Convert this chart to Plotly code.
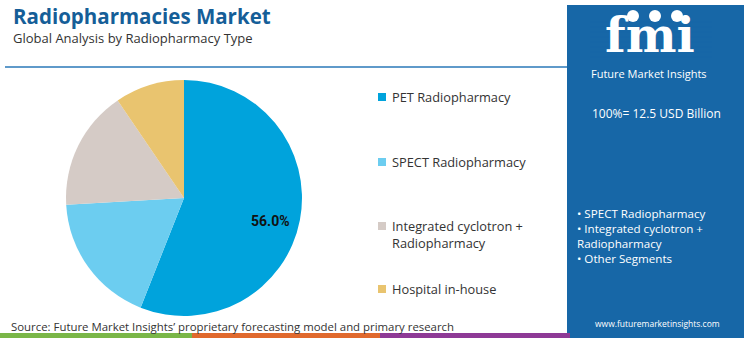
import math
import plotly.graph_objects as go

# ---- data ----
categories = ["PET Radiopharmacy", "SPECT Radiopharmacy",
              "Integrated cyclotron +<br>Radiopharmacy", "Hospital in-house"]
shares = [56.0, 18.1, 16.4, 9.5]
colors = ["#00a3dc", "#6ccdf0", "#d5cbc6", "#e9c46f"]
title = "Radiopharmacies Market"
subtitle = "Global Analysis by Radiopharmacy Type"
total_text = "100%= 12.5 USD Billion"
other_segments = ["SPECT Radiopharmacy", "Integrated cyclotron +<br>Radiopharmacy", "Other Segments"]
source = "Source: Future Market Insights\u2019 proprietary forecasting model and primary research"

W, H = 750, 338
FONT = "Open Sans"
PANEL = "#1767a7"

def px(x):
    return x / W

def py(y):
    return 1 - y / H

# pie domain (pixels)
PX0, PX1, PY0, PY1 = 66, 302, 80, 316

fig = go.Figure()
fig.add_trace(go.Pie(
    labels=categories, values=shares, sort=False, direction="clockwise", rotation=0,
    marker=dict(colors=colors, line=dict(width=0)),
    textinfo="none",
    domain=dict(x=[px(PX0), px(PX1)], y=[py(PY1), py(PY0)]),
    showlegend=False, hoverinfo="label+percent",
))

# label on the largest slice, placed from the slice's own angle
total = sum(shares)
cx, cy, R = (PX0 + PX1) / 2, (PY0 + PY1) / 2, (PX1 - PX0) / 2
theta = math.radians(0.5 * shares[0] / total * 360 + 4)
lx, ly = cx + 0.76 * R * math.sin(theta), cy - 0.76 * R * math.cos(theta)

shapes = []
ann = []
ann.append(dict(x=px(lx), y=py(ly), xref="paper", yref="paper",
                text="<b>%.1f%%</b>" % (shares[0] / total * 100), showarrow=False,
                xanchor="center", yanchor="middle",
                font=dict(family="Roboto", size=14, color="#111111")))
# top rule
shapes.append(dict(type="line", xref="paper", yref="paper", x0=px(5), x1=px(567), y0=py(67), y1=py(67),
                   line=dict(color="#2a78b8", width=1.5)))
# bottom strips
for x0, x1, c in [(0, 192, "#7ab648"), (192, 380, "#e0692d"), (380, 570, "#8e3a96")]:
    shapes.append(dict(type="rect", xref="paper", yref="paper", x0=px(x0), x1=px(x1), y0=py(338), y1=py(333),
                       fillcolor=c, line=dict(width=0)))
# right panel
shapes.append(dict(type="rect", xref="paper", yref="paper", x0=px(567), x1=px(744), y0=py(338), y1=py(5),
                   fillcolor=PANEL, line=dict(width=0), layer="below"))

# legend (manual)
leg_y = [97, 162, 234, 289]
for lab, c, y in zip(categories, colors, leg_y):
    sq = y if "<br>" not in lab else y - 8
    shapes.append(dict(type="rect", xref="paper", yref="paper", x0=px(378), x1=px(386),
                       y0=py(sq + 4), y1=py(sq - 4), fillcolor=c, line=dict(width=0)))
    ann.append(dict(x=px(390), y=py(y), xref="paper", yref="paper", text=lab, showarrow=False,
                    xanchor="left", yanchor="middle", align="left",
                    font=dict(family=FONT, size=12.8, color="#333333")))

# titles
ann.append(dict(x=px(11), y=py(16), xref="paper", yref="paper", text="<b>" + title + "</b>", showarrow=False,
                xanchor="left", yanchor="middle", font=dict(family=FONT, size=20.5, color="#155e98")))
ann.append(dict(x=px(11), y=py(38), xref="paper", yref="paper", text=subtitle, showarrow=False,
                xanchor="left", yanchor="middle", font=dict(family=FONT, size=13, color="#333333")))
ann.append(dict(x=px(9), y=py(326), xref="paper", yref="paper", text=source, showarrow=False,
                xanchor="left", yanchor="middle", font=dict(family=FONT, size=11.4, color="#333333")))

# panel texts
ann.append(dict(x=px(650), y=py(35), xref="paper", yref="paper", text="<b>fmi</b>", showarrow=False,
                xanchor="center", yanchor="middle", font=dict(family="DejaVu Serif", size=48, color="white")))
for yy in range(22, 60, 5):
    shapes.append(dict(type="line", xref="paper", yref="paper", x0=px(590), x1=px(712), y0=py(yy), y1=py(yy),
                       line=dict(color=PANEL, width=1.2)))
for ccx in [633, 655, 677]:
    shapes.append(dict(type="circle", xref="paper", yref="paper", x0=px(ccx - 6), x1=px(ccx + 6),
                       y0=py(22), y1=py(10), fillcolor="white", line=dict(width=0)))
ann.append(dict(x=px(649), y=py(73), xref="paper", yref="paper", text="Future Market Insights", showarrow=False,
                xanchor="center", yanchor="middle", font=dict(family=FONT, size=11, color="white")))
ann.append(dict(x=px(656), y=py(113), xref="paper", yref="paper", text=total_text, showarrow=False,
                xanchor="center", yanchor="middle", font=dict(family=FONT, size=12, color="white")))
ann.append(dict(x=px(575), y=py(236), xref="paper", yref="paper",
                text="<br>".join("\u2022 " + s for s in other_segments),
                showarrow=False, xanchor="left", yanchor="middle", align="left",
                font=dict(family=FONT, size=11.6, color="white")))
ann.append(dict(x=px(657), y=py(323), xref="paper", yref="paper", text="www.futuremarketinsights.com", showarrow=False,
                xanchor="center", yanchor="middle", font=dict(family=FONT, size=8.5, color="white")))

fig.update_layout(width=W, height=H, margin=dict(l=0, r=0, t=0, b=0),
                  paper_bgcolor="white", plot_bgcolor="white",
                  shapes=shapes, annotations=ann)
fig.write_html("out.html")
